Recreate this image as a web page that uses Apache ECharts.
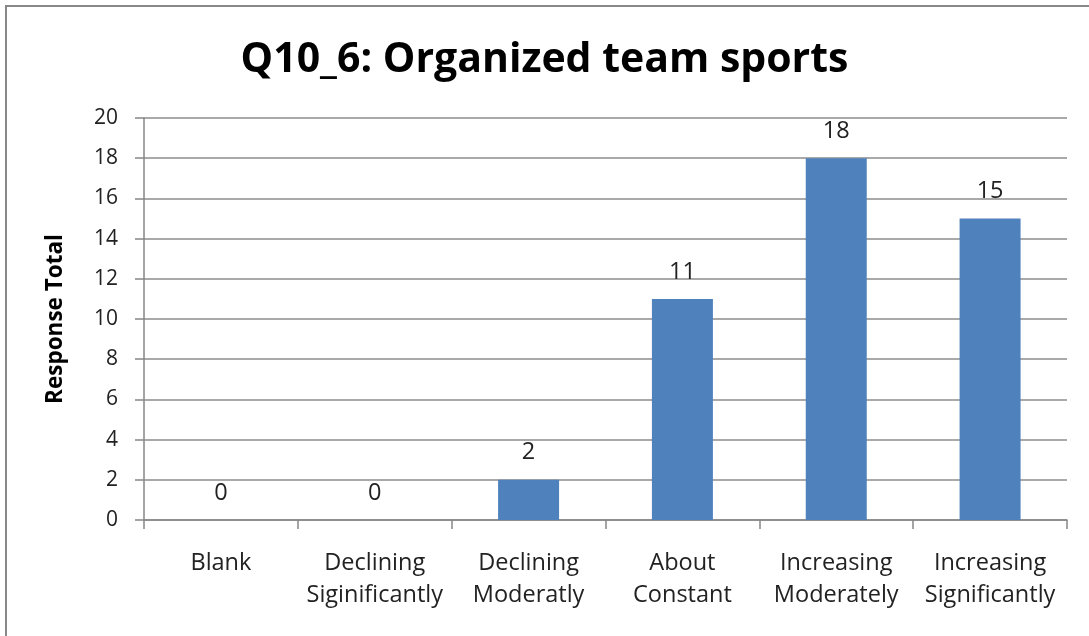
<!DOCTYPE html>
<html>
<head>
<meta charset="utf-8">
<script src="https://cdn.jsdelivr.net/npm/echarts@6/dist/echarts.min.js"></script>
<style>
  html, body { margin: 0; padding: 0; background: #fff; }
  #chart { width: 1089px; height: 636px; }
</style>
</head>
<body>
<div id="chart"></div>
<script>
// Survey responses for question Q10_6
const titleText = 'Q10_6: Organized team sports';
const categories = ['Blank', 'Declining\nSiginificantly', 'Declining\nModeratly', 'About\nConstant', 'Increasing\nModerately', 'Increasing\nSignificantly'];
const responseTotals = [0, 0, 2, 11, 18, 15];
const yAxisName = 'Response Total';

const FONT = '"Open Sans", "Liberation Sans", sans-serif';
const chart = echarts.init(document.getElementById('chart'), null, { renderer: 'canvas' });

chart.setOption({
  animation: false,
  backgroundColor: '#ffffff',
  title: {
    text: titleText,
    left: 'center',
    top: 35,
    textStyle: { fontFamily: FONT, fontSize: 41, fontWeight: 'bold', color: '#000' }
  },
  graphic: [{
    type: 'rect',
    shape: { x: 6, y: 6, width: 1200, height: 700 },
    style: { fill: 'none', stroke: '#888888', lineWidth: 2 },
    silent: true
  }],
  grid: { left: 144, right: 22, top: 118, bottom: 116 },
  xAxis: {
    type: 'category',
    data: categories,
    axisLine: { lineStyle: { color: '#868686', width: 1.5 } },
    axisTick: { show: true, alignWithLabel: false, length: 9, lineStyle: { color: '#868686', width: 1.5 } },
    axisLabel: {
      fontFamily: FONT, fontSize: 23.5, color: '#222', margin: 27, lineHeight: 32, interval: 0
    },
    splitLine: { show: false }
  },
  yAxis: {
    type: 'value',
    min: 0,
    max: 20,
    interval: 2,
    name: yAxisName,
    nameLocation: 'middle',
    nameGap: 77,
    nameTextStyle: { fontFamily: FONT, fontSize: 22.5, fontWeight: 'bold', color: '#000' },
    axisLine: { show: true, lineStyle: { color: '#868686', width: 1.5 } },
    axisTick: { show: true, length: 9, lineStyle: { color: '#868686', width: 1.5 } },
    axisLabel: { fontFamily: FONT, fontSize: 21, color: '#222', margin: 26 },
    splitLine: { show: true, lineStyle: { color: '#8c8c8c', width: 1.5 } }
  },
  series: [{
    type: 'bar',
    data: responseTotals,
    barWidth: 61,
    itemStyle: { color: '#4F81BD' },
    label: {
      show: true,
      position: 'top',
      distance: 15,
      fontFamily: FONT,
      fontSize: 23.5,
      color: '#222'
    }
  }]
});
</script>
</body>
</html>
